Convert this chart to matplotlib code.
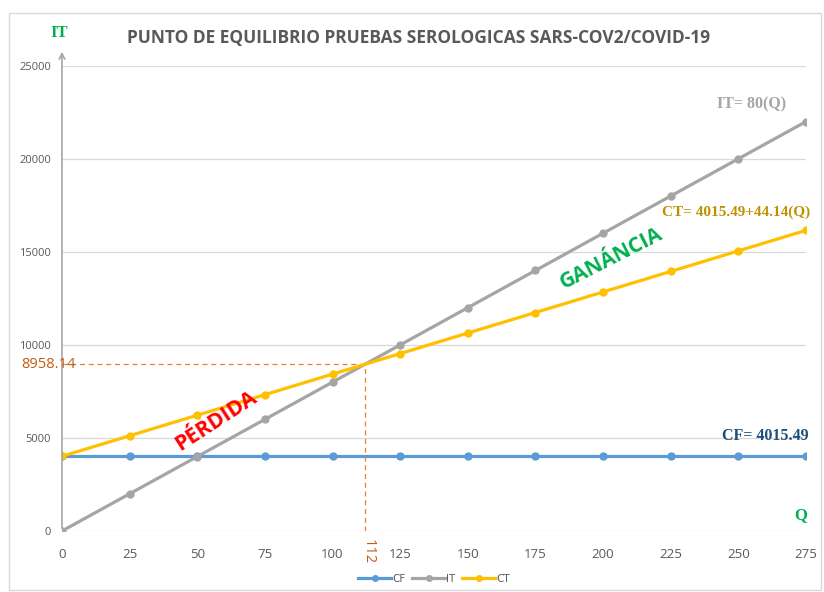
import matplotlib.pyplot as plt
from matplotlib.patches import Rectangle

# datos
q = [0, 25, 50, 75, 100, 125, 150, 175, 200, 225, 250, 275]
cf = [4015.49] * 12
it = [0, 2000, 4000, 6000, 8000, 10000, 12000, 14000, 16000, 18000, 20000, 22000]
ct = [4015.49, 5119, 6222, 7326, 8430, 9533, 10637, 11740, 12844, 13947, 15051, 16154]
q_eq = 112
it_eq = 8958.14
y_ticks = [0, 5000, 10000, 15000, 20000, 25000]

fig = plt.figure(figsize=(8.24, 5.92), dpi=100)
ax = fig.add_axes([0.0752, 0.103, 0.903, 0.786])

# borde del area del grafico
fig.patches.append(Rectangle((0.011, 0.003), 0.985, 0.975, transform=fig.transFigure,
                             fill=False, edgecolor='#d9d9d9', linewidth=1))

ax.plot(q, cf, color='#5B9BD5', lw=2.3, marker='o', ms=5, label='CF', zorder=3)
ax.plot(q, it, color='#A5A5A5', lw=2.3, marker='o', ms=5, label='IT', zorder=3)
ax.plot(q, ct, color='#FFC000', lw=2.3, marker='o', ms=5, label='CT', zorder=3)

# punto de equilibrio
ax.plot([0, q_eq], [it_eq, it_eq], color='#ED7D31', lw=0.9, ls=(0, (4, 3)), zorder=2)
ax.plot([q_eq, q_eq], [0, it_eq], color='#ED7D31', lw=0.9, ls=(0, (4, 3)), zorder=2)
ax.text(-15, it_eq, '8958.14', color='#C55A11', fontsize=10.5, ha='left', va='center',
        family='Open Sans', clip_on=False, zorder=4)
ax.text(q_eq + 1, -450, '112', color='#C55A11', fontsize=10.5, ha='center', va='top',
        rotation=-90, family='Open Sans', clip_on=False)

ax.set_xlim(0, 275)
ax.set_ylim(0, 25000)
ax.set_xticks(q)
ax.set_yticks(y_ticks)
ax.grid(axis='y', color='#d9d9d9', lw=0.9)
ax.set_axisbelow(True)
for s in ax.spines.values():
    s.set_visible(False)
ax.tick_params(length=0, colors='#595959')
ax.tick_params(axis='x', labelsize=9.5, pad=12)
ax.tick_params(axis='y', labelsize=8, pad=8)
for lab in ax.get_xticklabels() + ax.get_yticklabels():
    lab.set_family('Open Sans')

# eje Y con flecha
ax.annotate('', xy=(0, 25900), xytext=(0, 0), annotation_clip=False,
            arrowprops=dict(arrowstyle='->', color='#A5A5A5', lw=1.2))

fig.text(0.508, 0.935, 'PUNTO DE EQUILIBRIO PRUEBAS SEROLOGICAS SARS-COV2/COVID-19',
         ha='center', va='center', fontsize=12.5, fontweight='bold', color='#595959',
         family='Open Sans')
fig.text(0.072, 0.944, 'IT', color='#00B050', fontsize=12, fontweight='bold',
         family='Liberation Serif', ha='center', va='center')
ax.text(273, 400, 'Q', color='#00B050', fontsize=12, fontweight='bold',
        family='Liberation Serif', ha='center', va='bottom')

ax.text(255, 22900, 'IT= 80(Q)', color='#A5A5A5', fontsize=11.5, family='Liberation Serif',
        fontweight='bold', ha='center', va='center')
ax.text(249, 17100, 'CT= 4015.49+44.14(Q)', color='#BF9000', fontsize=11,
        fontweight='bold', family='Liberation Serif', ha='center', va='center')
ax.text(276, 5100, 'CF= 4015.49', color='#1F4E79', fontsize=11.5,
        fontweight='bold', family='Liberation Serif', ha='right', va='center',
        clip_on=False)
ax.text(203, 14650, 'GANÁNCIA', color='#00B050', fontsize=15, fontweight='bold',
        family='Open Sans', rotation=27, ha='center', va='center')
ax.text(57, 5900, 'PÉRDIDA', color='#FF0000', fontsize=15.5, fontweight='bold',
        family='Open Sans', rotation=33, ha='center', va='center')

leg = ax.legend(loc='upper center', bbox_to_anchor=(0.5, -0.072), ncol=3, frameon=False,
                fontsize=7.5, handlelength=3.2, columnspacing=0.6, handletextpad=0.1,
                markerscale=0.8)
for t in leg.get_texts():
    t.set_color('#595959')

fig.savefig('out.png', dpi=100)
